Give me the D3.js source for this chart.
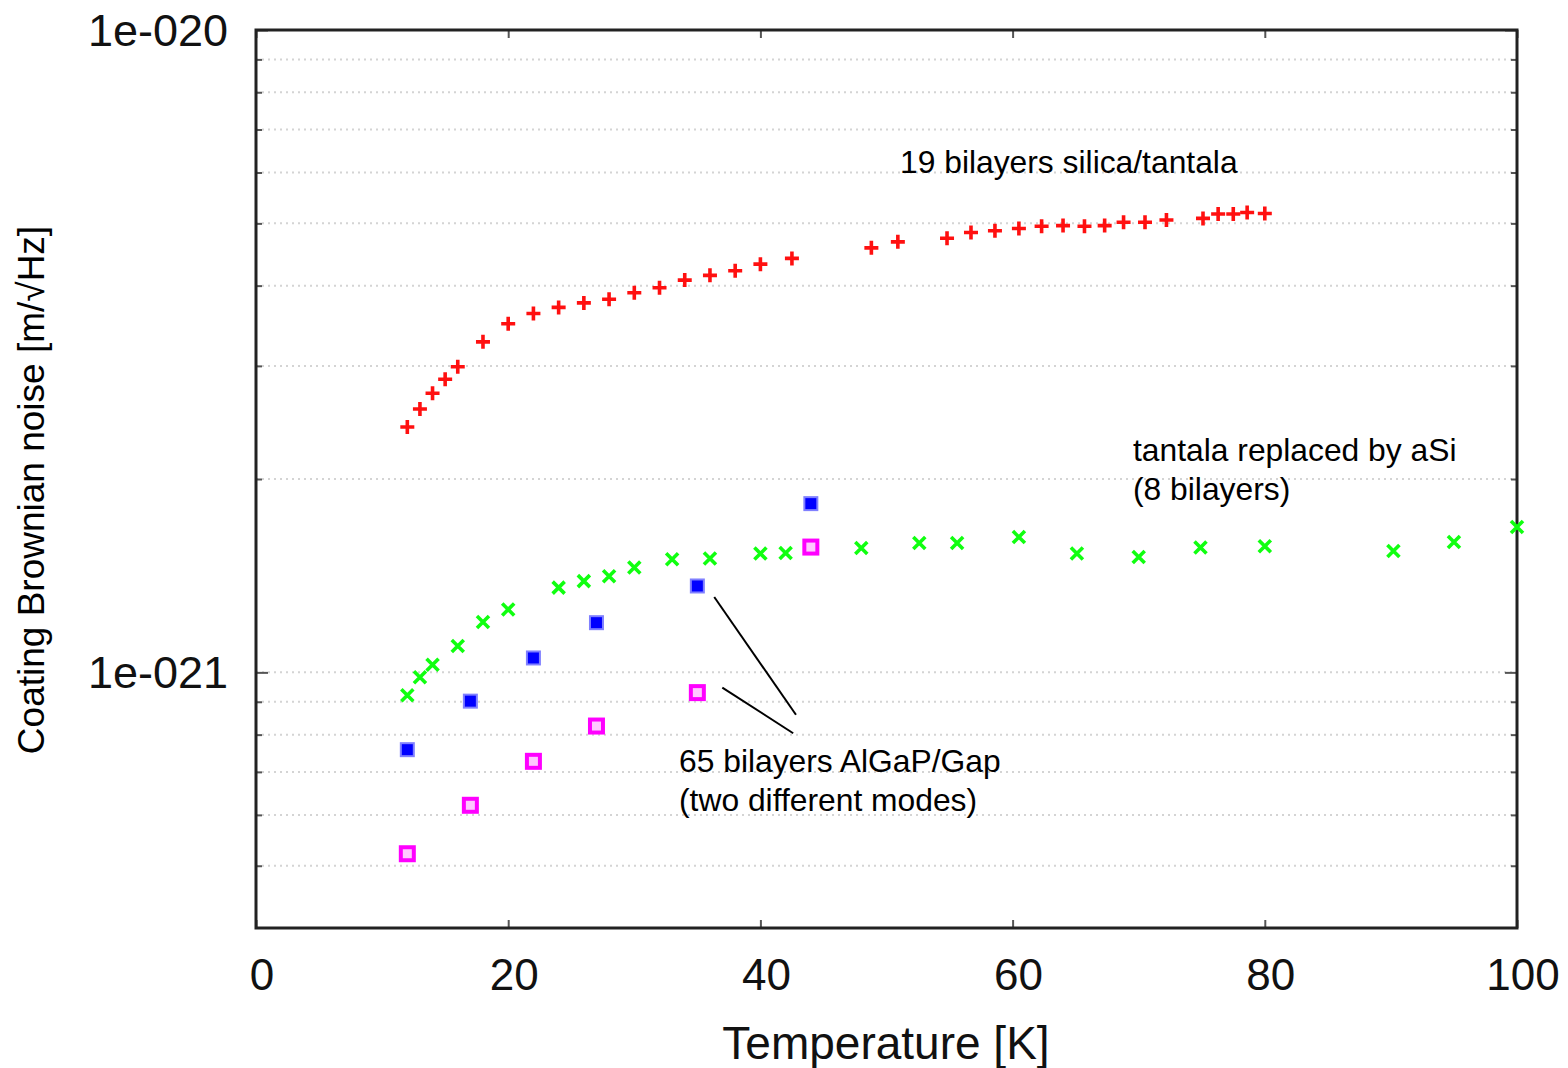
<!DOCTYPE html>
<html>
<head>
<meta charset="utf-8">
<script src="https://cdn.jsdelivr.net/npm/d3@7"></script>
<style>
  body { margin: 0; background: #fff; }
  svg { display: block; }
  text { font-family: "Liberation Sans", Arial, sans-serif; fill: #000; }
</style>
</head>
<body>
<div id="chart"></div>
<script>
// temperatures [K] and noise [1e-21 m/sqrt(Hz)]
const silicaT = [12, 13, 14, 15, 16, 18, 20, 22, 24, 26, 28, 30, 32, 34, 36, 38, 40, 42.5,
  48.8, 50.9, 54.8, 56.7, 58.6, 60.5, 62.3, 64, 65.7, 67.3, 68.8, 70.5, 72.2, 75.1, 76.3, 77.5, 78.6, 80];
const silicaV = [2.41, 2.57, 2.72, 2.86, 2.99, 3.27, 3.49, 3.62, 3.70, 3.76, 3.81, 3.90, 3.97, 4.08, 4.15, 4.22, 4.32, 4.41,
  4.58, 4.68, 4.74, 4.84, 4.87, 4.91, 4.95, 4.96, 4.95, 4.96, 5.02, 5.02, 5.06, 5.09, 5.17, 5.17, 5.20, 5.18];

const asiT = [12, 13, 14, 16, 18, 20, 24, 26, 28, 30, 33, 36, 40, 42, 48, 52.6, 55.6, 60.5, 65.1, 70, 74.9, 80, 90.2, 95, 100];
const asiV = [0.921, 0.983, 1.028, 1.099, 1.198, 1.253, 1.355, 1.387, 1.411, 1.456, 1.50, 1.504, 1.531, 1.534,
  1.562, 1.590, 1.590, 1.624, 1.531, 1.512, 1.564, 1.572, 1.545, 1.596, 1.684];

const algapT = [12, 17, 22, 27, 35, 44];
const algapMode1V = [0.758, 0.902, 1.053, 1.195, 1.363, 1.831];
const algapMode2V = [0.522, 0.621, 0.727, 0.825, 0.930, 1.567];

const xTicks = [0, 20, 40, 60, 80, 100];
const yMajorTicks = [1e-21, 1e-20];
const yMajorLabels = ['1e-021', '1e-020'];
const yMinorTicks = [5e-22, 6e-22, 7e-22, 8e-22, 9e-22, 2e-21, 3e-21, 4e-21, 5e-21, 6e-21, 7e-21, 8e-21, 9e-21];

// annotation pointer lines, data coords [T, noise*1e21]
const pointers = [
  [[36.34, 1.31], [42.82, 0.859]],
  [[36.98, 0.947], [42.6, 0.804]]
];

const
  totalWidth = 1568,
  totalHeight = 1068;
const
  plot = { left: 256, right: 1517, top: 30, bottom: 928 };

const svg = d3.select('#chart').append('svg')
  .attr('width', totalWidth)
  .attr('height', totalHeight);

//--------------------- Scales ---------------------
const xScale = d3.scaleLinear()
  .domain([0, 100])
  .range([plot.left, plot.right]);
const yScale = d3.scaleLog()
  .domain([4e-22, 1e-20])
  .range([plot.bottom, plot.top]);

//--------------------- Grid -----------------------
const gridValues = yMinorTicks.concat([1e-21]);
svg.append('g')
  .selectAll('line')
  .data(gridValues)
  .enter()
  .append('line')
    .attr('x1', plot.left)
    .attr('x2', plot.right)
    .attr('y1', d => yScale(d))
    .attr('y2', d => yScale(d))
    .style('stroke', '#d4d4d4')
    .style('stroke-width', 2)
    .style('stroke-dasharray', '2,4');

//--------------------- Axes -----------------------
const ax = svg.append('g').style('stroke', '#222');
// bottom & top ticks
const xAxisBottom = d3.axisBottom(xScale).tickValues(xTicks).tickSizeInner(-8).tickSizeOuter(0).tickFormat('');
const xAxisTop = d3.axisTop(xScale).tickValues(xTicks).tickSizeInner(-8).tickSizeOuter(0).tickFormat('');
ax.append('g').attr('transform', 'translate(0,' + plot.bottom + ')').call(xAxisBottom);
ax.append('g').attr('transform', 'translate(0,' + plot.top + ')').call(xAxisTop);
// left & right ticks
const yMajorLeft = d3.axisLeft(yScale).tickValues(yMajorTicks).tickSizeInner(-12).tickSizeOuter(0).tickFormat('');
const yMinorLeft = d3.axisLeft(yScale).tickValues(yMinorTicks).tickSizeInner(-6).tickSizeOuter(0).tickFormat('');
const yMajorRight = d3.axisRight(yScale).tickValues(yMajorTicks).tickSizeInner(-12).tickSizeOuter(0).tickFormat('');
const yMinorRight = d3.axisRight(yScale).tickValues(yMinorTicks).tickSizeInner(-6).tickSizeOuter(0).tickFormat('');
[yMajorLeft, yMinorLeft].forEach(a => ax.append('g').attr('transform', 'translate(' + plot.left + ',0)').call(a));
[yMajorRight, yMinorRight].forEach(a => ax.append('g').attr('transform', 'translate(' + plot.right + ',0)').call(a));
ax.selectAll('.domain').remove();
ax.selectAll('line').style('stroke', '#555').style('stroke-width', 2);

// border
svg.append('rect')
  .attr('x', plot.left)
  .attr('y', plot.top)
  .attr('width', plot.right - plot.left)
  .attr('height', plot.bottom - plot.top)
  .style('fill', 'none')
  .style('stroke', '#222')
  .style('stroke-width', 3);

// tick labels
svg.append('g')
  .selectAll('text')
  .data(xTicks)
  .enter()
  .append('text')
    .attr('x', d => xScale(d) + 6)
    .attr('y', 990)
    .attr('text-anchor', 'middle')
    .style('font-size', '44px')
    .style('fill', '#111')
    .text(d => d);

svg.append('g')
  .selectAll('text')
  .data(yMajorTicks)
  .enter()
  .append('text')
    .attr('x', 228)
    .attr('y', d => yScale(d) + 16)
    .attr('text-anchor', 'end')
    .style('font-size', '45px')
    .style('fill', '#111')
    .text((d, i) => yMajorLabels[i]);

// axis titles
svg.append('text')
  .attr('x', 886)
  .attr('y', 1059)
  .attr('text-anchor', 'middle')
  .style('font-size', '46px')
  .style('fill', '#111')
  .text('Temperature [K]');

svg.append('text')
  .attr('transform', 'translate(44,490) rotate(-90)')
  .attr('text-anchor', 'middle')
  .style('font-size', '37px')
  .text('Coating Brownian noise [m/\u221AHz]');

//--------------------- Points ---------------------
const toPoints = (ts, vs) => ts.map((t, i) => ({ t: t, v: vs[i] * 1e-21 }));
const px = d => xScale(d.t);
const py = d => yScale(d.v);

// silica/tantala: plus
svg.append('g')
  .selectAll('path')
  .data(toPoints(silicaT, silicaV))
  .enter()
  .append('path')
    .attr('d', d => 'M' + (px(d) - 7) + ',' + py(d) + 'h14M' + px(d) + ',' + (py(d) - 7) + 'v14')
    .style('stroke', '#ff1010')
    .style('stroke-width', 3.6);

// aSi: cross
svg.append('g')
  .selectAll('path')
  .data(toPoints(asiT, asiV))
  .enter()
  .append('path')
    .attr('d', d => 'M' + (px(d) - 6) + ',' + (py(d) - 6) + 'l12,12M' + (px(d) - 6) + ',' + (py(d) + 6) + 'l12,-12')
    .style('stroke', '#10ff10')
    .style('stroke-width', 3.6);

// AlGaP mode 1: filled square
svg.append('g')
  .selectAll('rect')
  .data(toPoints(algapT, algapMode1V))
  .enter()
  .append('rect')
    .attr('x', d => px(d) - 6.5)
    .attr('y', d => py(d) - 6.5)
    .attr('width', 13)
    .attr('height', 13)
    .style('fill', '#0000ff')
    .style('stroke', '#8080ff')
    .style('stroke-width', 2);

// AlGaP mode 2: open square
svg.append('g')
  .selectAll('rect')
  .data(toPoints(algapT, algapMode2V))
  .enter()
  .append('rect')
    .attr('x', d => px(d) - 6.5)
    .attr('y', d => py(d) - 6.5)
    .attr('width', 13)
    .attr('height', 13)
    .style('fill', '#ffc8ff')
    .style('stroke', '#ff00ff')
    .style('stroke-width', 4);

//--------------------- Annotations ----------------
svg.append('g')
  .selectAll('line')
  .data(pointers)
  .enter()
  .append('line')
    .attr('x1', d => xScale(d[0][0]))
    .attr('y1', d => yScale(d[0][1] * 1e-21))
    .attr('x2', d => xScale(d[1][0]))
    .attr('y2', d => yScale(d[1][1] * 1e-21))
    .style('stroke', '#000')
    .style('stroke-width', 2);

const notes = [
  { x: 900, y: 173, lines: ['19 bilayers silica/tantala'] },
  { x: 1133, y: 461, lines: ['tantala replaced by aSi', '(8 bilayers)'] },
  { x: 679, y: 772, lines: ['65 bilayers AlGaP/Gap', '(two different modes)'] }
];
notes.forEach(n => {
  const t = svg.append('text')
    .attr('x', n.x)
    .attr('y', n.y)
    .style('font-size', '31.8px');
  n.lines.forEach((l, i) => {
    t.append('tspan')
      .attr('x', n.x)
      .attr('dy', i === 0 ? 0 : 39)
      .text(l);
  });
});
</script>
</body>
</html>
